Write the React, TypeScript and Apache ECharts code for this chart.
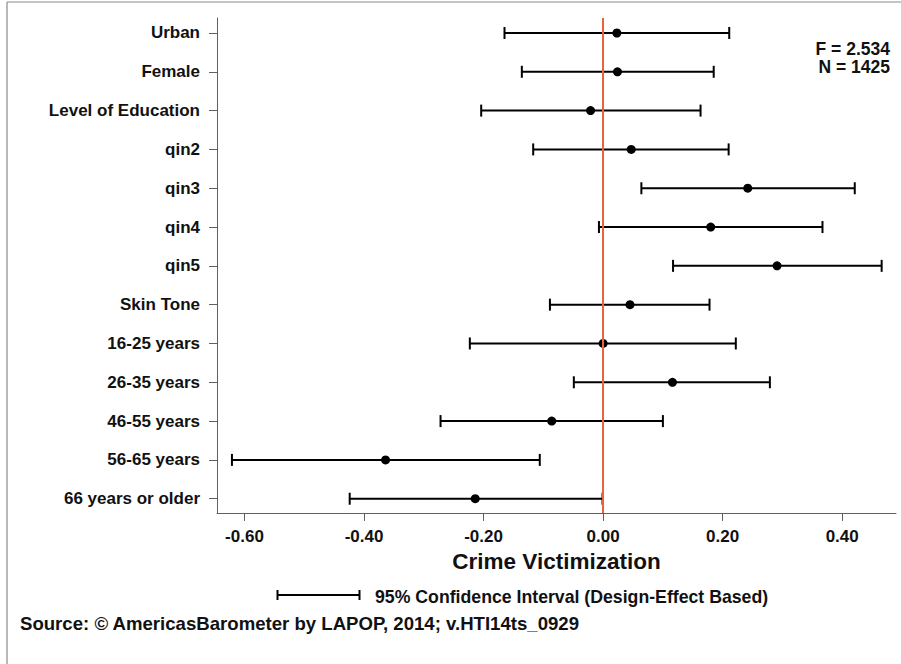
import React, { useEffect, useRef } from "react";
import * as echarts from "echarts";

const categories = [
  "Urban",
  "Female",
  "Level of Education",
  "qin2",
  "qin3",
  "qin4",
  "qin5",
  "Skin Tone",
  "16-25 years",
  "26-35 years",
  "46-55 years",
  "56-65 years",
  "66 years or older",
];
const estimates = [0.023, 0.024, -0.021, 0.047, 0.242, 0.18, 0.291, 0.045, 0.0, 0.116, -0.086, -0.364, -0.214];
const lowerBounds = [-0.165, -0.136, -0.204, -0.117, 0.064, -0.007, 0.117, -0.089, -0.223, -0.049, -0.272, -0.621, -0.424];
const upperBounds = [0.211, 0.185, 0.163, 0.21, 0.421, 0.367, 0.466, 0.178, 0.222, 0.279, 0.1, -0.106, -0.001];
const xTicks = [-0.6, -0.4, -0.2, 0, 0.2, 0.4];
const statLines = ["F = 2.534", "N = 1425"];
const xAxisTitle = "Crime Victimization";
const legendLabel = "95% Confidence Interval (Design-Effect Based)";
const sourceNote = "Source: \u00a9 AmericasBarometer by LAPOP, 2014; v.HTI14ts_0929";

const FONT = "'Liberation Sans', Arial, Helvetica, sans-serif";
const AXIS_COLOR = "#606060";
const REF_COLOR = "#E8653C";

export default function App() {
  const ref = useRef<HTMLDivElement>(null);

  useEffect(() => {
    if (!ref.current) return;
    const chart = echarts.init(ref.current, undefined, { renderer: "svg" });
    const idx = categories.map((_, i) => i);
    const intervalData = idx.map((i) => [lowerBounds[i], upperBounds[i], i]);
    const pointData = idx.map((i) => [estimates[i], i]);

    const option: any = {
      animation: false,
      backgroundColor: "#ffffff",
      textStyle: { fontFamily: FONT },
      grid: { left: 217, right: 5, top: 18, bottom: 151, containLabel: false },
      xAxis: {
        type: "value",
        min: -0.646,
        max: 0.49,
        axisLine: { show: true, onZero: false, lineStyle: { color: AXIS_COLOR, width: 1 } },
        axisTick: { show: true, length: 8, inside: false, customValues: xTicks, lineStyle: { color: AXIS_COLOR, width: 1 } },
        axisLabel: {
          customValues: xTicks,
          margin: 15,
          color: "#111",
          fontSize: 17,
          fontWeight: "bold",
          fontFamily: FONT,
          formatter: (v: number) => v.toFixed(2),
        },
        splitLine: { show: false },
        name: xAxisTitle,
        nameLocation: "middle",
        nameGap: 30,
        nameTextStyle: { color: "#111", fontSize: 22.5, fontWeight: "bold", fontFamily: FONT },
      },
      yAxis: {
        type: "value",
        inverse: true,
        min: -0.386,
        max: 12.368,
        axisLine: { show: true, onZero: false, lineStyle: { color: AXIS_COLOR, width: 1 } },
        axisTick: { show: true, length: 8, inside: false, customValues: idx, lineStyle: { color: AXIS_COLOR, width: 1 } },
        axisLabel: {
          customValues: idx,
          margin: 17,
          color: "#111",
          fontSize: 17,
          fontWeight: "bold",
          fontFamily: FONT,
          formatter: (v: number) => categories[Math.round(v)] ?? "",
        },
        splitLine: { show: false },
      },
      series: [
        {
          type: "custom",
          z: 2,
          data: intervalData,
          encode: { x: [0, 1], y: 2 },
          renderItem: (params: any, api: any) => {
            const lo = api.coord([api.value(0), api.value(2)]);
            const hi = api.coord([api.value(1), api.value(2)]);
            const cap = 6;
            const style = { stroke: "#000", lineWidth: 2 };
            return {
              type: "group",
              children: [
                { type: "line", shape: { x1: lo[0], y1: lo[1], x2: hi[0], y2: hi[1] }, style },
                { type: "line", shape: { x1: lo[0], y1: lo[1] - cap, x2: lo[0], y2: lo[1] + cap }, style },
                { type: "line", shape: { x1: hi[0], y1: hi[1] - cap, x2: hi[0], y2: hi[1] + cap }, style },
              ],
            };
          },
        },
        {
          type: "scatter",
          z: 3,
          data: [],
          markLine: {
            silent: true,
            symbol: ["none", "none"],
            label: { show: false },
            lineStyle: { color: REF_COLOR, width: 2, type: "solid", opacity: 1 },
            data: [{ xAxis: 0 }],
          },
        },
        {
          type: "scatter",
          z: 4,
          data: pointData,
          symbol: "circle",
          symbolSize: 9,
          itemStyle: { color: "#000", opacity: 1 },
        },
      ],
      graphic: [
        { type: "line", shape: { x1: 7, y1: 2, x2: 901, y2: 2 }, style: { stroke: "#8a8a8a", lineWidth: 1.2 } },
        { type: "line", shape: { x1: 7, y1: 2, x2: 7, y2: 664 }, style: { stroke: "#8a8a8a", lineWidth: 1.2 } },
        {
          type: "text",
          x: 890,
          y: 49.2,
          style: { text: statLines[0], textAlign: "right", textVerticalAlign: "middle", font: `bold 17.5px ${FONT}`, fill: "#111" },
        },
        {
          type: "text",
          x: 890,
          y: 67.4,
          style: { text: statLines[1], textAlign: "right", textVerticalAlign: "middle", font: `bold 17.5px ${FONT}`, fill: "#111" },
        },
        { type: "line", shape: { x1: 277.5, y1: 595, x2: 359.5, y2: 595 }, style: { stroke: "#000", lineWidth: 2 } },
        { type: "line", shape: { x1: 277.5, y1: 590, x2: 277.5, y2: 600 }, style: { stroke: "#000", lineWidth: 2 } },
        { type: "line", shape: { x1: 359.5, y1: 590, x2: 359.5, y2: 600 }, style: { stroke: "#000", lineWidth: 2 } },
        {
          type: "text",
          x: 375,
          y: 596.5,
          style: { text: legendLabel, textAlign: "left", textVerticalAlign: "middle", font: `bold 17.7px ${FONT}`, fill: "#111" },
        },
        {
          type: "text",
          x: 20,
          y: 623,
          style: { text: sourceNote, textAlign: "left", textVerticalAlign: "middle", font: `bold 18.6px ${FONT}`, fill: "#111" },
        },
      ],
    };
    chart.setOption(option);
    return () => chart.dispose();
  }, []);

  return (
    <div
      ref={ref}
      style={{ position: "fixed", left: 0, top: 0, width: 901, height: 664, background: "#fff" }}
    />
  );
}
